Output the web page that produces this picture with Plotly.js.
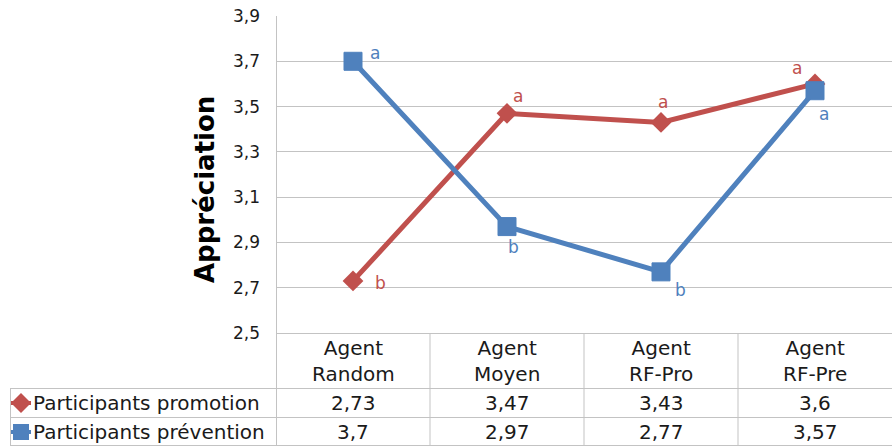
<!DOCTYPE html>
<html>
<head>
<meta charset="utf-8">
<script src="https://cdn.plot.ly/plotly-3.0.1.min.js"></script>
<style>html,body{margin:0;padding:0;background:#fff;}#chart{width:894px;height:446px;}</style>
</head>
<body>
<div id="chart"></div>
<script>
// ---- data ----
const categories = ['Agent Random', 'Agent Moyen', 'Agent RF-Pro', 'Agent RF-Pre'];
const categoryLabels = ['Agent<br>Random', 'Agent<br>Moyen', 'Agent<br>RF-Pro', 'Agent<br>RF-Pre'];
const seriesNames = ['Participants promotion', 'Participants prévention'];
const promotion = [2.73, 3.47, 3.43, 3.6];
const prevention = [3.7, 2.97, 2.77, 3.57];
const promotionLetters = ['b', 'a', 'a', 'a'];
const preventionLetters = ['a', 'b', 'b', 'a'];
const yTicks = [2.5, 2.7, 2.9, 3.1, 3.3, 3.5, 3.7, 3.9];

// ---- styling ----
const RED = '#c0504d', BLUE = '#4f81bd', GRID = '#c3c3c3', TEXT = '#1a1a1a';
const FONT = 'DejaVu Sans, Verdana, sans-serif';
const promoOffsets = [[27, -2], [11, 17], [2, 20], [-18, 16]];
const prevOffsets = [[22, 8], [6, -20], [19, -18], [9, -23]];
const TABLE_FONT = 20;

// plot area pixels: x 276..892, y 16..333
const py = p => (333 - p) / 317;   // pixel y -> paper y
const px = p => (p - 276) / 616;   // pixel x -> paper x

const fmt = v => String(v).replace('.', ',');

const traces = [
  {x: categories, y: promotion, name: seriesNames[0], type: 'scatter', mode: 'lines+markers',
   line: {color: RED, width: 5}, marker: {symbol: 'diamond', size: 16, color: RED}},
  {x: categories, y: prevention, name: seriesNames[1], type: 'scatter', mode: 'lines+markers',
   line: {color: BLUE, width: 5}, marker: {symbol: 'square', size: 18, color: BLUE, line: {color: BLUE, width: 1}}}
];

const annotations = [];
// significance letters
promotion.forEach((v, i) => annotations.push({x: categories[i], y: v, xref: 'x', yref: 'y', text: promotionLetters[i],
  xanchor: 'center', yanchor: 'middle',
  showarrow: false, xshift: promoOffsets[i][0], yshift: promoOffsets[i][1], font: {family: FONT, size: 17, color: RED}}));
prevention.forEach((v, i) => annotations.push({x: categories[i], y: v, xref: 'x', yref: 'y', text: preventionLetters[i],
  xanchor: 'center', yanchor: 'middle',
  showarrow: false, xshift: prevOffsets[i][0], yshift: prevOffsets[i][1], font: {family: FONT, size: 17, color: BLUE}}));
// y title
annotations.push({x: px(205), y: py(190), xref: 'paper', yref: 'paper', text: '<b>Appréciation</b>', textangle: -90,
  xanchor: 'center', yanchor: 'middle',
  showarrow: false, font: {family: FONT, size: 26, color: '#000'}});
// data table: header
categories.forEach((c, i) => annotations.push({x: c, y: py(361), xref: 'x', yref: 'paper', text: categoryLabels[i],
  xanchor: 'center', yanchor: 'middle',
  showarrow: false, font: {family: FONT, size: TABLE_FONT, color: TEXT}}));
// data table: values
[promotion, prevention].forEach((arr, r) => {
  const yc = r === 0 ? 403 : 432;
  arr.forEach((v, i) => annotations.push({x: categories[i], y: py(yc), xref: 'x', yref: 'paper', text: fmt(v),
    xanchor: 'center', yanchor: 'middle',
    showarrow: false, font: {family: FONT, size: TABLE_FONT, color: TEXT}}));
  annotations.push({x: px(31), y: py(yc), xref: 'paper', yref: 'paper', xanchor: 'left', yanchor: 'middle', text: seriesNames[r],
    showarrow: false, font: {family: FONT, size: TABLE_FONT, color: TEXT}});
});

const L = {color: GRID, width: 1};
const shapes = [
  // y axis line extended through table
  {type: 'line', xref: 'paper', yref: 'paper', x0: px(276.5), x1: px(276.5), y0: py(16), y1: py(445.5), line: L},
  // x axis / table top
  {type: 'line', xref: 'paper', yref: 'paper', x0: 0, x1: 1, y0: py(333.5), y1: py(333.5), line: L},
  // row lines
  ...[388.5, 417.5, 445.5].map(p => ({type: 'line', xref: 'paper', yref: 'paper', x0: px(10), x1: 1, y0: py(p), y1: py(p), line: L})),
  // left border of legend rows
  {type: 'line', xref: 'paper', yref: 'paper', x0: px(10.5), x1: px(10.5), y0: py(388.5), y1: py(445.5), line: L},
  // column separators
  ...[0.5, 1.5, 2.5].map(b => ({type: 'line', xref: 'x', yref: 'paper', x0: b, x1: b, y0: py(333.5), y1: py(445.5), line: L})),
  // legend keys
  {type: 'line', xref: 'paper', yref: 'paper', x0: px(11), x1: px(31), y0: py(403), y1: py(403), line: {color: RED, width: 4}},
  {type: 'path', xref: 'paper', yref: 'paper', fillcolor: RED, line: {width: 0},
   path: `M ${px(21)} ${py(393)} L ${px(31)} ${py(403)} L ${px(21)} ${py(413)} L ${px(11)} ${py(403)} Z`},
  {type: 'line', xref: 'paper', yref: 'paper', x0: px(11), x1: px(31), y0: py(432), y1: py(432), line: {color: BLUE, width: 4}},
  {type: 'rect', xref: 'paper', yref: 'paper', fillcolor: BLUE, line: {width: 0},
   x0: px(13), x1: px(29), y0: py(424), y1: py(440)}
];

const layout = {
  width: 894, height: 446,
  margin: {l: 276, r: 2, t: 16, b: 113, pad: 0},
  paper_bgcolor: '#fff', plot_bgcolor: '#fff',
  separators: ', ',
  showlegend: false,
  font: {family: FONT, color: TEXT},
  xaxis: {type: 'category', categoryarray: categories, range: [-0.5, 3.5], showticklabels: false,
          showgrid: false, zeroline: false, showline: false, fixedrange: true},
  yaxis: {range: [2.5, 3.9], tickvals: yTicks, ticktext: yTicks.map(v => fmt(v.toFixed(1))),
          showgrid: true, gridcolor: GRID, gridwidth: 1, zeroline: false, showline: false,
          ticks: '', ticklabelstandoff: 15, tickfont: {family: FONT, size: 17, color: TEXT}, fixedrange: true},
  annotations: annotations,
  shapes: shapes
};

Plotly.newPlot('chart', traces, layout, {staticPlot: true, displayModeBar: false});
</script>
</body>
</html>
